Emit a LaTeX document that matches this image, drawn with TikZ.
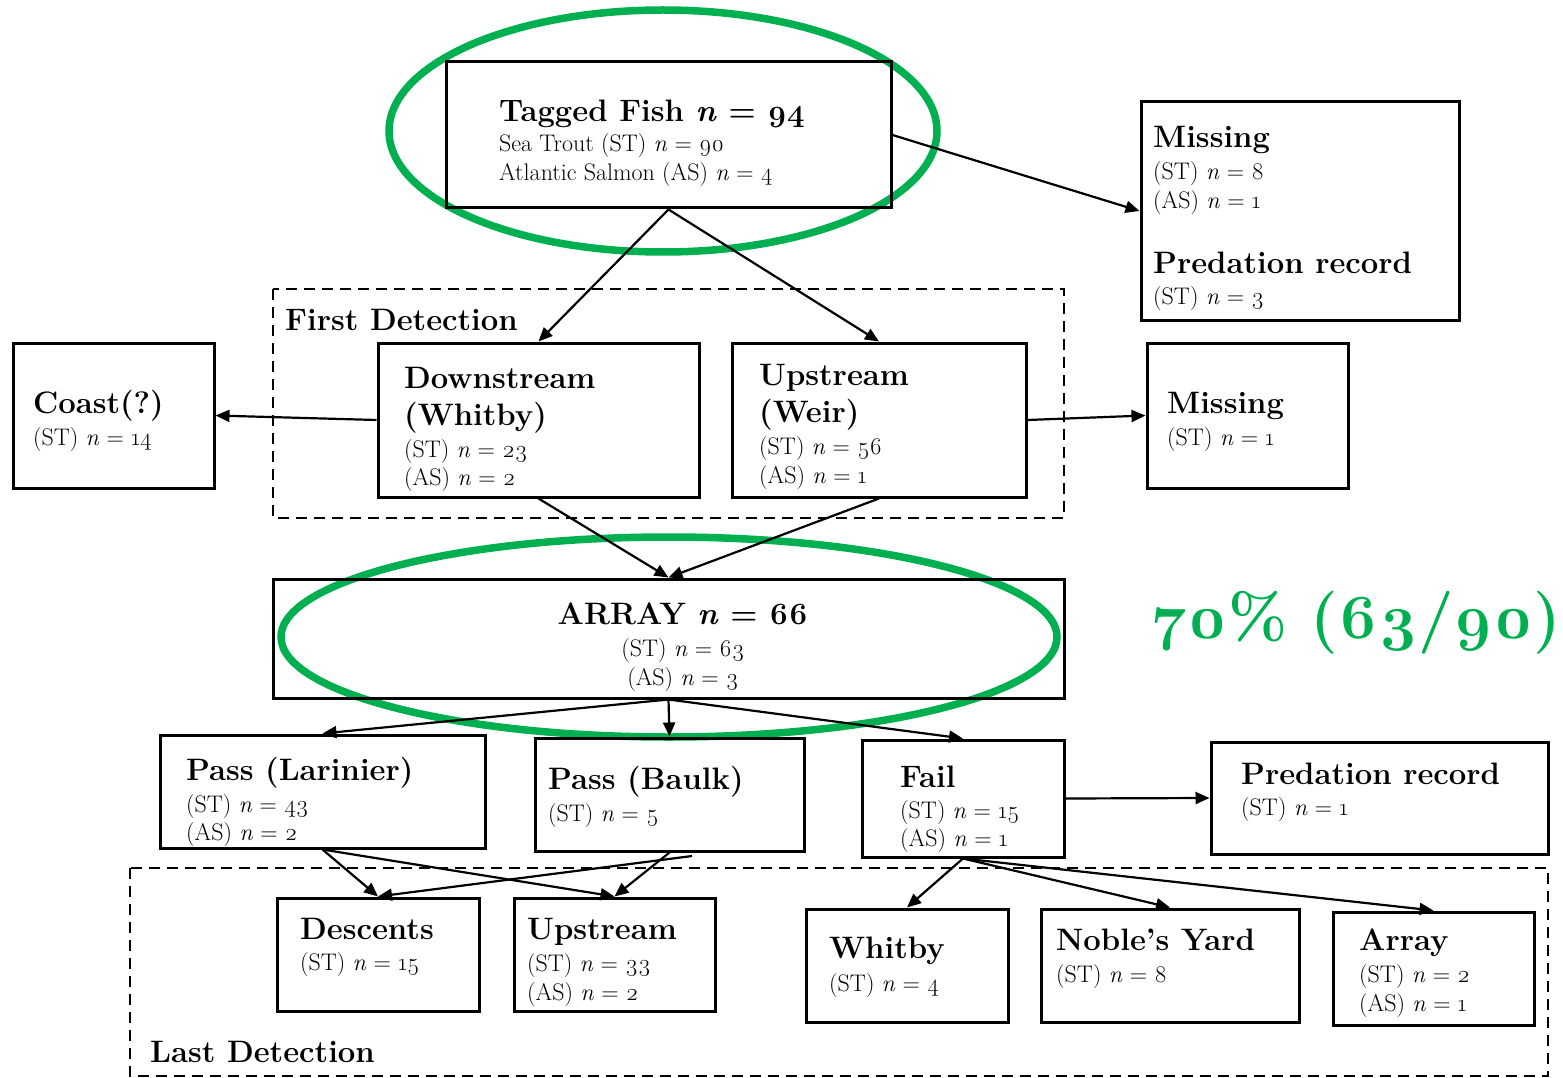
\documentclass[tikz,border=0pt]{standalone}
\usepackage{fontspec}
\setmainfont{Latin Modern Roman}[Numbers=OldStyle]
\usetikzlibrary{arrows.meta,calc}
\definecolor{grn}{RGB}{0,176,80}
\tikzset{
  box/.style={draw, line width=3pt, inner sep=0pt, rectangle},
  grp/.style={draw, line width=2.4pt, dash pattern=on 11pt off 7pt},
  arr/.style={line width=2.2pt, -{Triangle[length=14pt,width=12pt]}},
  ring/.style={draw=grn, line width=7.5pt},
  tt/.style={anchor=base west, inner sep=0pt, font=\fontsize{31}{33}\selectfont\bfseries},
  st/.style={anchor=base west, inner sep=0pt, font=\fontsize{24}{28}\selectfont},
}
\newcommand\bx[5]{\node[box, minimum width={#4pt-#2pt}, minimum height={#5pt-#3pt}] (#1) at ({(#2+#4)/2},{(#3+#5)/2}) {};}
\newcommand\tx[5]{\node[#4] (#1) at (#2,#3) {#5};}
\begin{document}
\begin{tikzpicture}[x=1pt,y=-1pt]
\useasboundingbox (0,0) rectangle (1563,1078);
% green rings
\draw[ring] (663,131) ellipse [x radius=274pt, y radius=121pt];
\draw[ring] (669,637) ellipse [x radius=388pt, y radius=100pt];
% group frames
\draw[grp] (273,289) rectangle (1064,518);
\draw[grp] (130,868) rectangle (1548,1076);
% boxes
\bx{tag}{446}{62}{891}{208}
\bx{mis1}{1141}{102}{1459}{320}
\bx{down}{378}{343}{699}{497}
\bx{up}{732}{343}{1026}{497}
\bx{coast}{13}{343}{214}{488}
\bx{mis2}{1147}{343}{1348}{488}
\bx{arr}{273}{579}{1064}{698}
\bx{lar}{160}{735}{485}{848}
\bx{baulk}{535}{738}{804}{851}
\bx{fail}{862}{740}{1064}{857}
\bx{pred}{1211}{742}{1548}{854}
\bx{desc}{277}{898}{479}{1011}
\bx{up2}{514}{898}{715}{1011}
\bx{whit}{806}{909}{1008}{1022}
\bx{noble}{1041}{909}{1299}{1022}
\bx{array}{1333}{912}{1534}{1025}
% texts
\tx{t1}{499}{122}{tt}{Tagged Fish \textit{n} = 94}
\tx{t2}{499}{152}{st}{Sea Trout (ST) \textit{n} = 90}
\tx{t3}{499}{181}{st}{Atlantic Salmon (AS) \textit{n} = 4}
\tx{m1}{1153}{148}{tt}{Missing}
\tx{m2}{1153}{180}{st}{(ST) \textit{n} = 8}
\tx{m3}{1153}{208}{st}{(AS) \textit{n} = 1}
\tx{m4}{1153}{273}{tt}{Predation record}
\tx{m5}{1153}{304}{st}{(ST) \textit{n} = 3}
\tx{fd}{285}{330}{tt}{First Detection}
\tx{d1}{404}{388}{tt}{Downstream}
\tx{d2}{404}{425}{tt}{(Whitby)}
\tx{d3}{404}{457}{st}{(ST) \textit{n} = 23}
\tx{d4}{404}{485}{st}{(AS) \textit{n} = 2}
\tx{u1}{759}{385}{tt}{Upstream}
\tx{u2}{759}{422}{tt}{(Weir)}
\tx{u3}{759}{454}{st}{(ST) \textit{n} = 56}
\tx{u4}{759}{483}{st}{(AS) \textit{n} = 1}
\tx{c1}{33}{413}{tt}{Coast(?)}
\tx{c2}{33}{445}{st}{(ST) \textit{n} = 14}
\tx{s1}{1167}{413}{tt}{Missing}
\tx{s2}{1167}{445}{st}{(ST) \textit{n} = 1}
\tx{a1}{683}{624}{tt,anchor=base}{ARRAY \textit{n} = 66}
\tx{a2}{683}{656}{st,anchor=base}{(ST) \textit{n} = 63}
\tx{a3}{683}{685}{st,anchor=base}{(AS) \textit{n} = 3}
\node[anchor=base west, inner sep=0pt, text=grn, font=\fontsize{63}{70}\selectfont\bfseries] (pct) at (1152,638) {70\% (63/90)};
\tx{l1}{186}{780}{tt}{Pass (Larinier)}
\tx{l2}{186}{812}{st}{(ST) \textit{n} = 43}
\tx{l3}{186}{840}{st}{(AS) \textit{n} = 2}
\tx{b1}{548}{789}{tt}{Pass (Baulk)}
\tx{b2}{548}{821}{st}{(ST) \textit{n} = 5}
\tx{f1}{900}{787}{tt}{Fail}
\tx{f2}{900}{818}{st}{(ST) \textit{n} = 15}
\tx{f3}{900}{846}{st}{(AS) \textit{n} = 1}
\tx{p1}{1241}{784}{tt}{Predation record}
\tx{p2}{1241}{815}{st}{(ST) \textit{n} = 1}
\tx{e1}{300}{939}{tt}{Descents}
\tx{e2}{300}{970}{st}{(ST) \textit{n} = 15}
\tx{v1}{527}{939}{tt}{Upstream}
\tx{v2}{527}{971}{st}{(ST) \textit{n} = 33}
\tx{v3}{527}{1000}{st}{(AS) \textit{n} = 2}
\tx{w1}{829}{958}{tt}{Whitby}
\tx{w2}{829}{991}{st}{(ST) \textit{n} = 4}
\tx{n1}{1056}{950}{tt}{Noble’s Yard}
\tx{n2}{1056}{982}{st}{(ST) \textit{n} = 8}
\tx{y1}{1359}{950}{tt}{Array}
\tx{y2}{1359}{982}{st}{(ST) \textit{n} = 2}
\tx{y3}{1359}{1011}{st}{(AS) \textit{n} = 1}
\tx{ld}{150}{1062}{tt}{Last Detection}
% connectors
\coordinate (bk) at (692,856);
\draw[arr] (tag.east) -- (mis1.west);
\draw[arr] (tag.south) -- (down.north);
\draw[arr] (tag.south) -- (up.north);
\draw[arr] (down.west) -- (coast.east);
\draw[arr] (up.east) -- (mis2.west);
\draw[arr] (down.south) -- (arr.north);
\draw[arr] (up.south) -- (arr.north);
\draw[arr] (arr.south) -- (lar.north);
\draw[arr] (arr.south) -- (baulk.north);
\draw[arr] (arr.south) -- (fail.north);
\draw[arr] (fail.east) -- (pred.west);
\draw[arr] (lar.south) -- (desc.north);
\draw[arr] (lar.south) -- (up2.north);
\draw[arr] (baulk.south) -- (up2.north);
\draw[arr] (bk) -- (desc.north);
\draw[arr] (fail.south) -- (whit.north);
\draw[arr] (fail.south) -- (noble.north);
\draw[arr] (fail.south) -- (array.north);
\end{tikzpicture}
\end{document}
